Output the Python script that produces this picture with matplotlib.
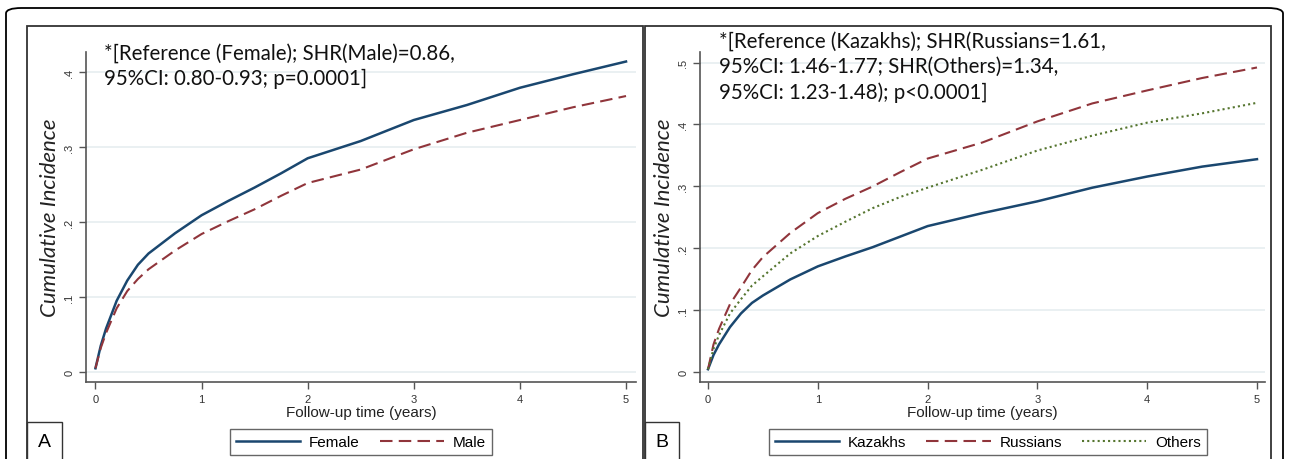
import matplotlib
matplotlib.use("Agg")
import matplotlib.pyplot as plt
from matplotlib.patches import Rectangle, FancyBboxPatch
from matplotlib.lines import Line2D

# follow-up time (years) at which the curves were read
t = [0, 0.05, 0.1, 0.2, 0.3, 0.4, 0.5, 0.75, 1, 1.25, 1.5, 1.75, 2, 2.5, 3, 3.5, 4, 4.5, 5]

# panel A: sex
female = [0.005, 0.035, 0.058, 0.095, 0.122, 0.143, 0.158, 0.185, 0.209, 0.228, 0.246, 0.265, 0.285, 0.308, 0.336, 0.356, 0.379, 0.397, 0.414]
male = [0.005, 0.032, 0.052, 0.085, 0.108, 0.124, 0.137, 0.162, 0.184, 0.201, 0.217, 0.235, 0.252, 0.270, 0.297, 0.319, 0.336, 0.353, 0.368]

# panel B: ethnicity
kazakhs = [0.005, 0.028, 0.045, 0.073, 0.095, 0.112, 0.124, 0.150, 0.171, 0.187, 0.202, 0.219, 0.236, 0.257, 0.276, 0.298, 0.316, 0.332, 0.344]
russians = [0.005, 0.045, 0.070, 0.110, 0.137, 0.165, 0.186, 0.225, 0.257, 0.280, 0.300, 0.323, 0.345, 0.371, 0.405, 0.434, 0.455, 0.475, 0.492]
others = [0.005, 0.038, 0.060, 0.095, 0.118, 0.140, 0.155, 0.192, 0.220, 0.243, 0.265, 0.283, 0.298, 0.327, 0.358, 0.382, 0.403, 0.418, 0.435]

note_a = "*[Reference (Female); SHR(Male)=0.86,\n95%CI: 0.80-0.93; p=0.0001]"
note_b = ("*[Reference (Kazakhs); SHR(Russians=1.61,\n95%CI: 1.46-1.77; SHR(Others)=1.34,\n"
          "95%CI: 1.23-1.48); p<0.0001]")

W, H = 1289, 460
NAVY, MAROON, GREEN = "#1a476f", "#90353b", "#55752f"

fig = plt.figure(figsize=(W / 100, H / 100), dpi=100)


def fx(x):
    return x / W


def fy(y):
    return 1 - y / H


# outer rounded frame and panel boxes
fig.patches.append(FancyBboxPatch((fx(6), fy(500)), fx(1277), 491 / H, boxstyle="round,pad=0,rounding_size=0.012",
                                  transform=fig.transFigure, fill=False, ec="black", lw=1.3))
for x0, x1 in [(27, 643), (645, 1271)]:
    fig.patches.append(Rectangle((fx(x0), fy(480)), fx(x1 - x0), 453 / H, transform=fig.transFigure,
                                 fill=False, ec="#333333", lw=1.3))
for x0, x1, lab in [(27, 62, "A"), (645, 679, "B")]:
    fig.patches.append(Rectangle((fx(x0), fy(480)), fx(x1 - x0), 57 / H, transform=fig.transFigure,
                                 fill=False, ec="#333333", lw=1.0))
    fig.text(fx((x0 + x1) / 2), fy(443), lab, ha="center", va="center", fontsize=14, family="Liberation Sans")


def style(ax, xlim, ylim, yticks):
    ax.set_xlim(*xlim)
    ax.set_ylim(*ylim)
    ax.set_xticks([0, 1, 2, 3, 4, 5])
    ax.set_yticks(yticks)
    ax.set_yticklabels(["0" if v == 0 else ("%.1f" % v)[1:] for v in yticks], rotation=90, va="center")
    for s in ["top", "right"]:
        ax.spines[s].set_visible(False)
    for s in ["left", "bottom"]:
        ax.spines[s].set_color("#555555")
        ax.spines[s].set_linewidth(1.2)
    ax.tick_params(colors="#555555", labelcolor="#333333", labelsize=8, length=5, width=1)
    for lbl in ax.get_xticklabels() + ax.get_yticklabels():
        lbl.set_family("Liberation Sans")
    ax.grid(axis="y", color="#e6eef0", lw=1.2)
    ax.set_axisbelow(True)
    ax.set_xlabel("Follow-up time (years)", fontsize=11, family="Liberation Sans", labelpad=1, color="#222222")
    ax.set_ylabel("Cumulative Incidence", fontsize=16, family="Lato", style="italic", color="#222222", labelpad=3)


leg_kw = dict(loc="upper center", fancybox=False, edgecolor="#666666", framealpha=1, borderaxespad=0,
              handlelength=4.2, handletextpad=0.6, columnspacing=1.3, borderpad=0.4,
              prop={"family": "Liberation Sans", "size": 11})

# panel A
axA = fig.add_axes([fx(86), fy(383), fx(636 - 86), (383 - 53) / H])
axA.plot(t, female, color=NAVY, lw=1.8)
axA.plot(t, male, color=MAROON, lw=1.5, dashes=(6, 3))
style(axA, (-0.089, 5.094), (-0.0133, 0.4267), [0, 0.1, 0.2, 0.3, 0.4])
fig.text(fx(104), fy(44), note_a, ha="left", va="top", fontsize=14.8, family="Lato", linespacing=1.32, color="#111111")
hA = [Line2D([], [], color=NAVY, lw=1.8), Line2D([], [], color=MAROON, lw=1.5, dashes=(6, 3))]
fig.legend(hA, ["Female", "Male"], bbox_to_anchor=(fx(361), fy(430)), ncol=2, **leg_kw)

# panel B
axB = fig.add_axes([fx(700), fy(383), fx(1265 - 700), (383 - 53) / H])
axB.plot(t, kazakhs, color=NAVY, lw=1.8)
axB.plot(t, russians, color=MAROON, lw=1.5, dashes=(6, 3))
axB.plot(t, others, color=GREEN, lw=1.5, dashes=(1, 1.5))
style(axB, (-0.073, 5.073), (-0.0156, 0.517), [0, 0.1, 0.2, 0.3, 0.4, 0.5])
fig.text(fx(719), fy(32), note_b, ha="left", va="top", fontsize=14.8, family="Lato", linespacing=1.32, color="#111111")
hB = [Line2D([], [], color=NAVY, lw=1.8), Line2D([], [], color=MAROON, lw=1.5, dashes=(6, 3)),
      Line2D([], [], color=GREEN, lw=1.5, dashes=(1, 1.5))]
fig.legend(hB, ["Kazakhs", "Russians", "Others"], bbox_to_anchor=(fx(988), fy(430)), ncol=3, **leg_kw)

fig.savefig("out.png", dpi=100)
